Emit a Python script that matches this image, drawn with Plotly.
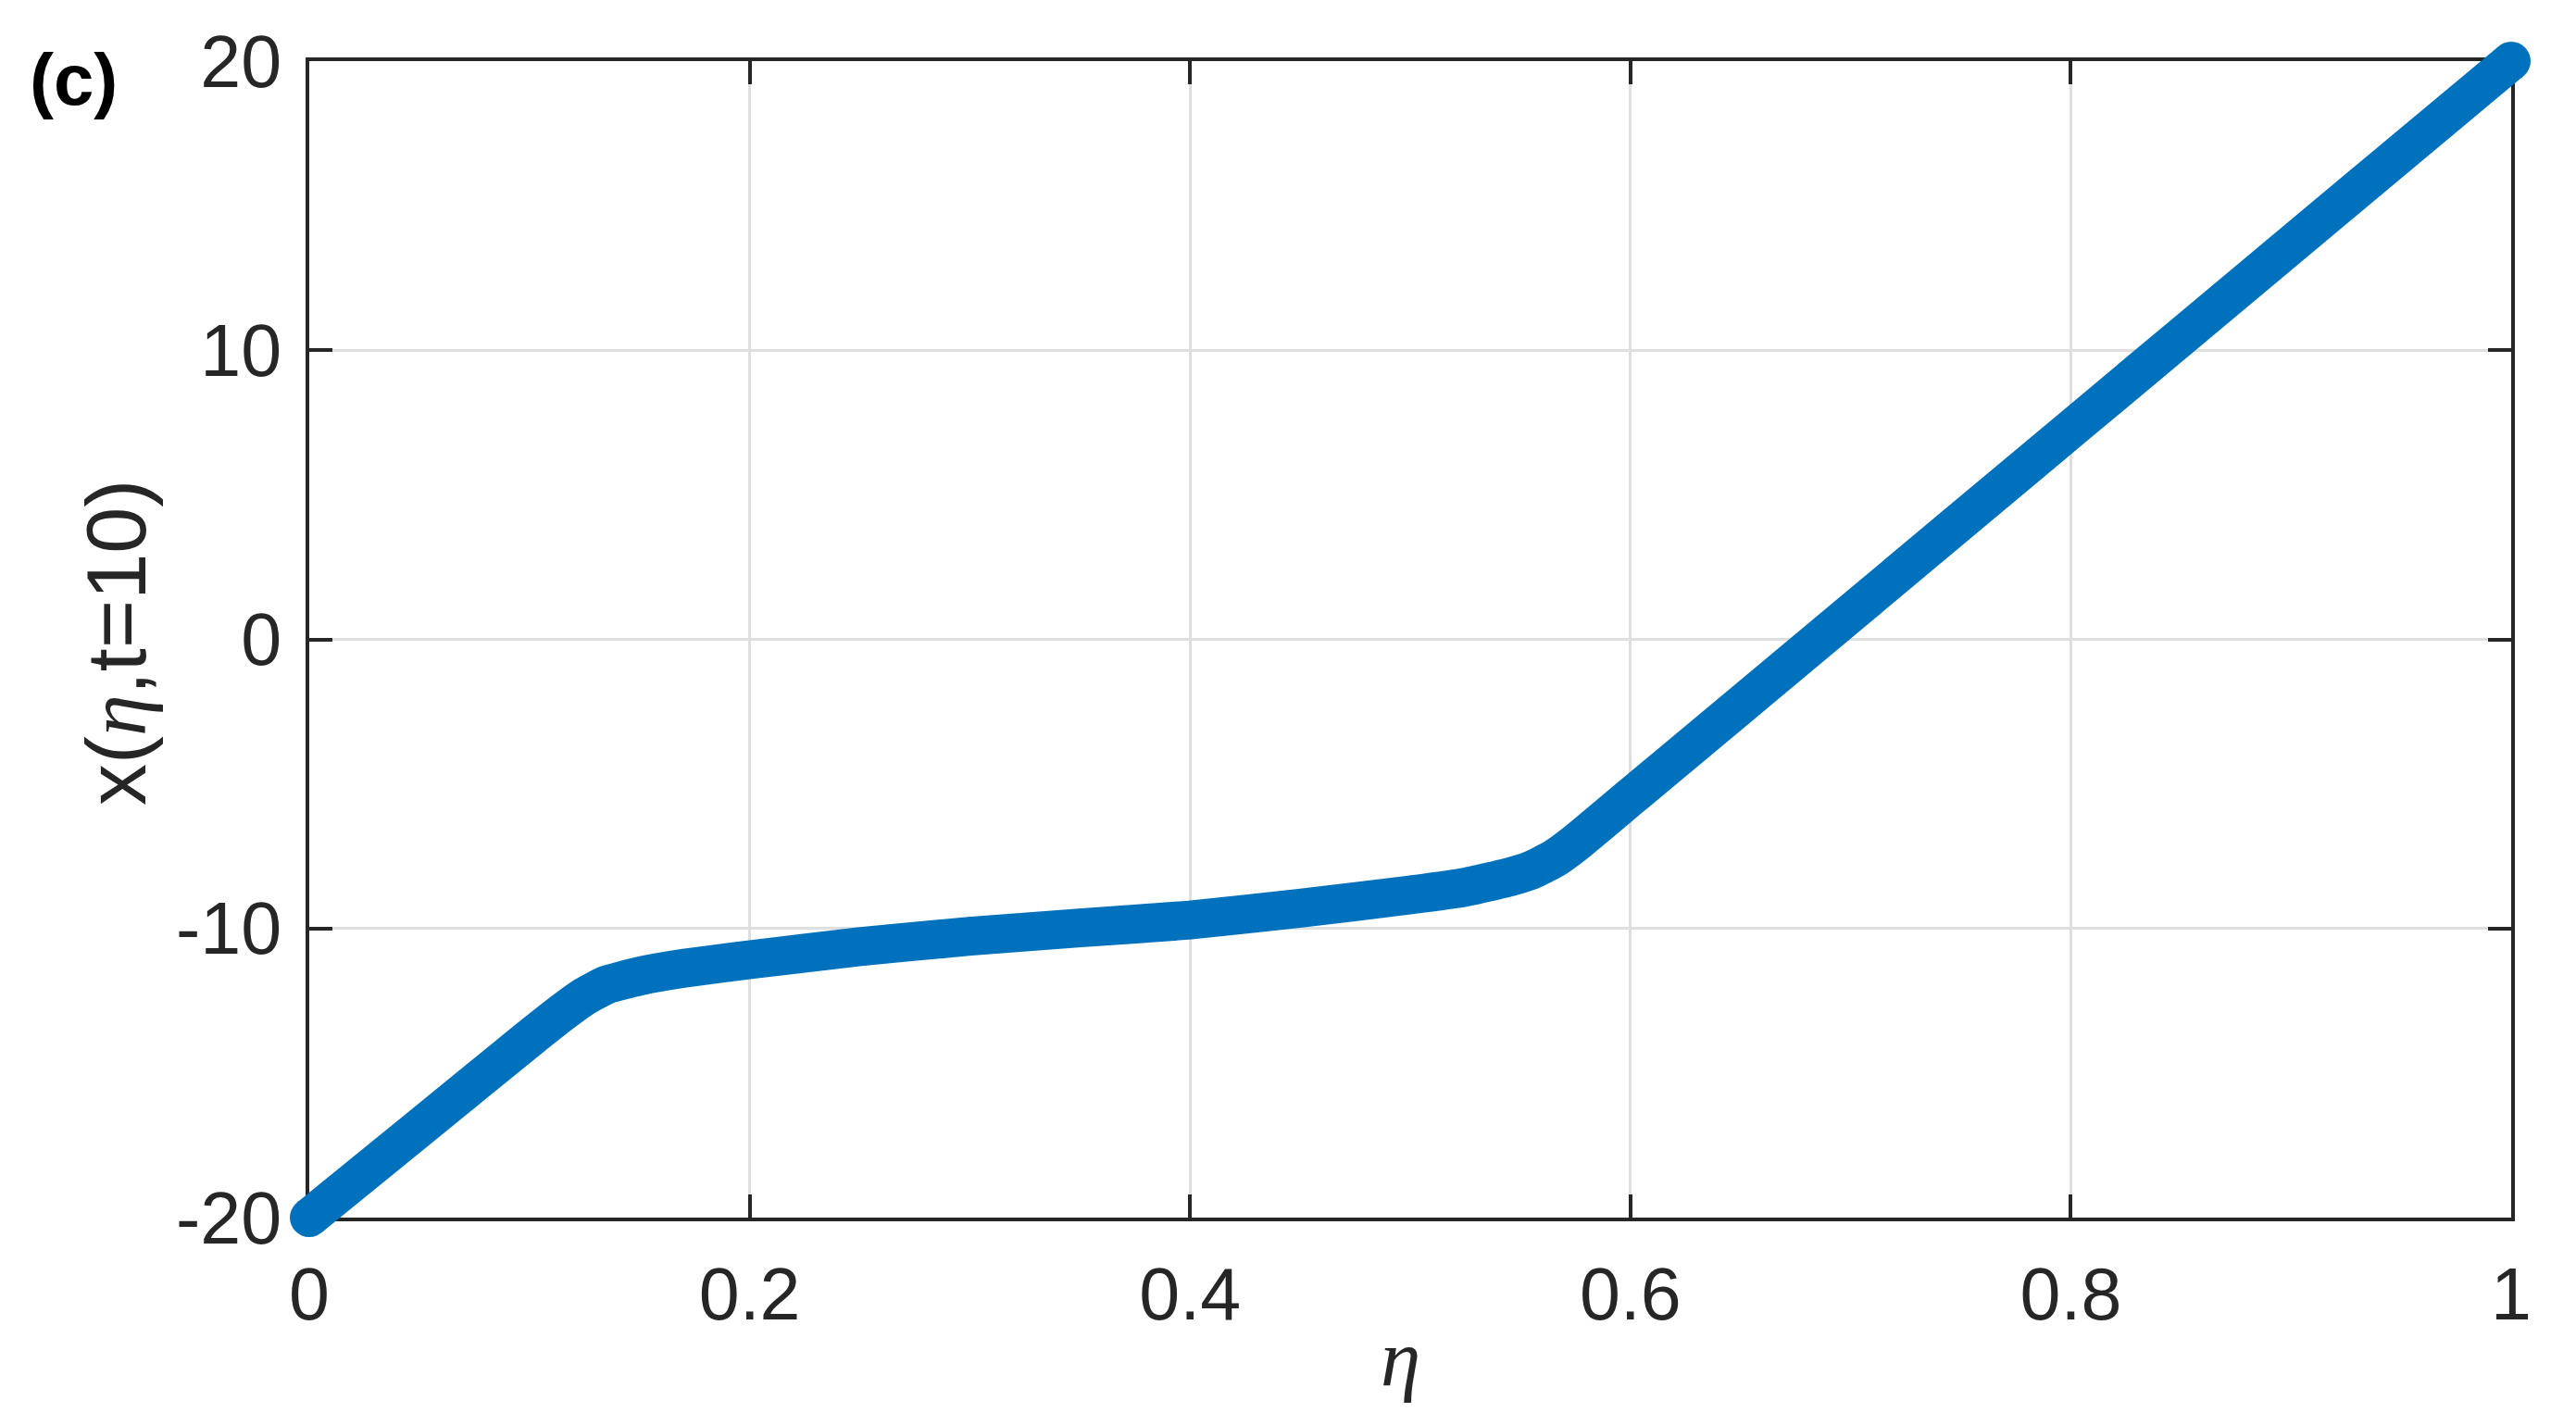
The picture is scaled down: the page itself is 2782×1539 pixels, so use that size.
import plotly.graph_objects as go

# data
eta = [0.0, 0.05, 0.10, 0.115, 0.125, 0.135, 0.15, 0.17, 0.20, 0.25, 0.30, 0.35,
       0.40, 0.45, 0.50, 0.525, 0.545, 0.555, 0.565, 0.575, 0.60, 0.70, 0.80, 0.90, 1.00]
x_val = [-20.0, -16.9, -13.8, -12.9, -12.35, -11.95, -11.65, -11.38, -11.08, -10.63,
         -10.27, -9.98, -9.71, -9.30, -8.84, -8.57, -8.22, -7.98, -7.6, -7.05,
         -5.46, 0.90, 7.27, 13.64, 20.0]

x_ticks = [0, 0.2, 0.4, 0.6, 0.8, 1]
x_ticktext = ["0", "0.2", "0.4", "0.6", "0.8", "1"]
y_ticks = [-20, -10, 0, 10, 20]
y_ticktext = ["-20", "-10", "0", "10", "20"]
x_range = [0, 1]
y_range = [-20, 20]

OFF = 8  # default body margin of the page
W, H = 2782 - 2 * OFF, 1539 - 2 * OFF
# plot box in page pixels
BX0, BX1, BY0, BY1 = 334, 2712, 66, 1315
fx0, fx1 = BX0 - OFF, BX1 - OFF
fy0, fy1 = BY0 - OFF, BY1 - OFF
pw, ph = fx1 - fx0, fy1 - fy0
PAD = 40  # unclipped room around the box for the thick line

blue = "#0072BD"
ink = "#262626"
LW = 42

# extended (invisible) axes carrying the curve, same scale as the visible box
dx = PAD * (x_range[1] - x_range[0]) / pw
dy = PAD * (y_range[1] - y_range[0]) / ph

fig = go.Figure()
fig.add_trace(go.Scatter(x=eta, y=x_val, mode="lines", xaxis="x2", yaxis="y2",
                         line=dict(color=blue, width=LW, shape="spline", smoothing=0.4),
                         cliponaxis=False, hoverinfo="skip", showlegend=False))
fig.add_trace(go.Scatter(x=[eta[0], eta[-1]], y=[x_val[0], x_val[-1]], mode="markers",
                         xaxis="x2", yaxis="y2",
                         marker=dict(color=blue, size=LW, line=dict(width=0)),
                         cliponaxis=False, hoverinfo="skip", showlegend=False))
# invisible trace to instantiate the visible box subplot
fig.add_trace(go.Scatter(x=[], y=[], xaxis="x", yaxis="y", showlegend=False))

axis_common = dict(showline=True, linecolor=ink, linewidth=4, mirror="ticks",
                   ticks="inside", ticklen=25, tickwidth=4, tickcolor=ink,
                   showgrid=True, gridcolor="#dfdfdf", gridwidth=3, zeroline=False,
                   tickfont=dict(family="Liberation Sans", size=79, color=ink),
                   layer="below traces", fixedrange=True)

fig.update_layout(
    xaxis=dict(domain=[fx0 / W, fx1 / W], range=x_range, tickmode="array",
               tickvals=x_ticks, ticktext=x_ticktext, ticklabelstandoff=11,
               anchor="y", **axis_common),
    yaxis=dict(domain=[1 - fy1 / H, 1 - fy0 / H], range=y_range, tickmode="array",
               tickvals=y_ticks, ticktext=y_ticktext, ticklabelstandoff=10,
               anchor="x", **axis_common),
    xaxis2=dict(domain=[(fx0 - PAD) / W, (fx1 + PAD) / W],
                range=[x_range[0] - dx, x_range[1] + dx], visible=False,
                showgrid=False, zeroline=False, fixedrange=True, anchor="y2"),
    yaxis2=dict(domain=[1 - (fy1 + PAD) / H, 1 - (fy0 - PAD) / H],
                range=[y_range[0] - dy, y_range[1] + dy], visible=False,
                showgrid=False, zeroline=False, fixedrange=True, anchor="x2"),
)


def px_x(p):
    return (p - OFF) / W


def px_y(p):
    return 1 - (p - OFF) / H


fig.add_annotation(text="x(<span style=\"font-family:'Liberation Serif';font-style:italic\">η</span>,t=10)",
                   xref="paper", yref="paper", x=px_x(126), y=px_y(694),
                   xanchor="center", yanchor="middle", textangle=-90, showarrow=False,
                   font=dict(family="Liberation Sans", size=90, color=ink))
fig.add_annotation(text="<i>η</i>",
                   xref="paper", yref="paper", x=px_x(1512), y=px_y(1466),
                   xanchor="center", yanchor="middle", showarrow=False,
                   font=dict(family="Liberation Serif", size=87, color=ink))
fig.add_annotation(text="<b>(c)</b>",
                   xref="paper", yref="paper", x=px_x(30), y=px_y(86),
                   xanchor="left", yanchor="middle", showarrow=False,
                   font=dict(family="Liberation Sans", size=78, color="#000000"))

fig.update_layout(width=W, height=H, margin=dict(l=0, r=0, t=0, b=0, autoexpand=False),
                  paper_bgcolor="white", plot_bgcolor="rgba(0,0,0,0)", showlegend=False)

fig.write_html("out.html", config={"displayModeBar": False})
